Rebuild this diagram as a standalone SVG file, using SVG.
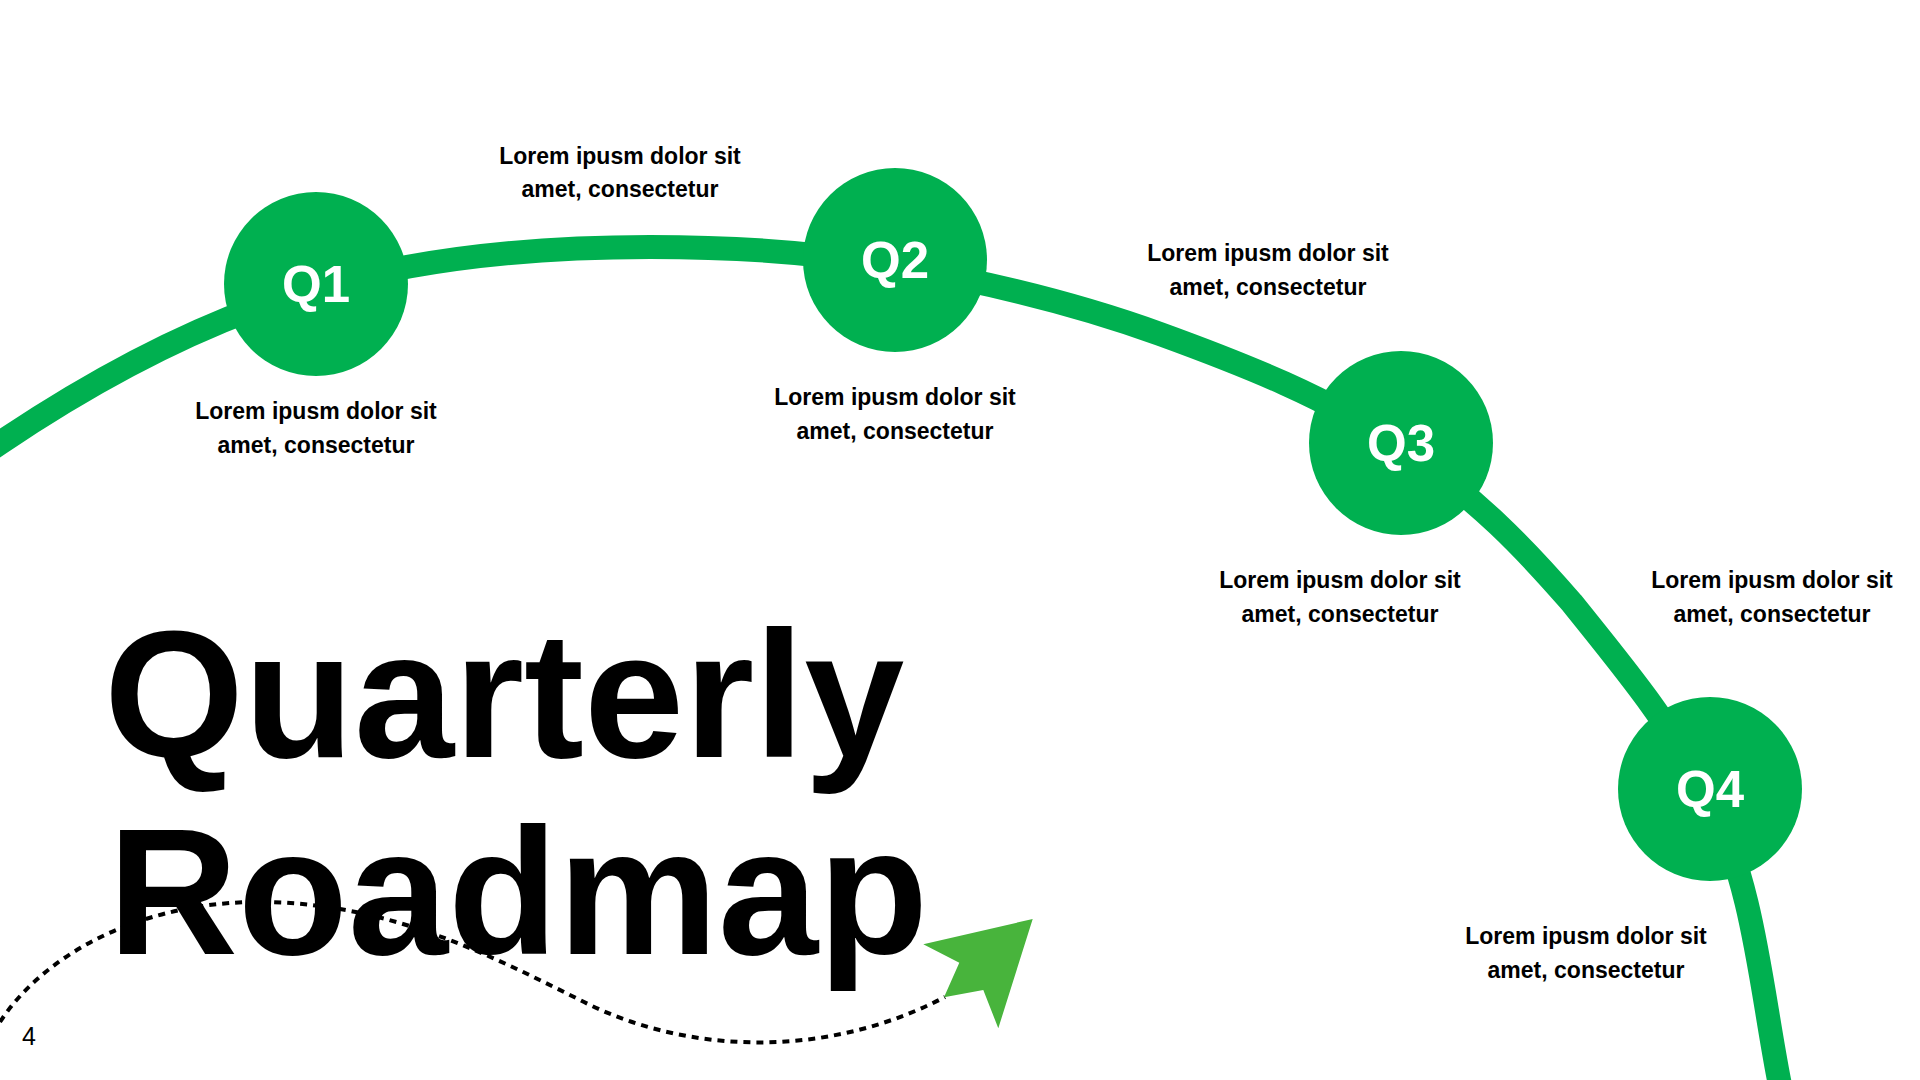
<svg xmlns="http://www.w3.org/2000/svg" width="1920" height="1080" viewBox="0 0 1920 1080">
<style>
.road{fill:none;stroke:#00B050;stroke-width:24;}
.node{fill:#00B050;}
.q{font-family:"Liberation Sans",Arial,sans-serif;font-weight:bold;font-size:51px;fill:#FFFFFF;text-anchor:middle;}
.lbl{font-family:"Liberation Sans",Arial,sans-serif;font-weight:bold;font-size:23px;fill:#000000;text-anchor:middle;}
.title{font-family:"Liberation Sans",Arial,sans-serif;font-weight:bold;font-size:180px;fill:#000000;}
.pg{font-family:"Liberation Sans",Arial,sans-serif;font-size:25px;fill:#000000;text-anchor:middle;}
.dots{fill:none;stroke:#000000;stroke-width:4;stroke-dasharray:7 6;}
</style>
<rect x="0" y="0" width="1920" height="1080" fill="#FFFFFF"/>
<g id="connectors">
<path class="road" d="M -30 463 L 0 443 C 97 377.6, 203.6 320.3, 316 288 C 423.6 257.1, 538 247, 650 247 C 732 247, 814.2 251.7, 895 266 C 984.6 281.8, 1074.5 302.9, 1160 334 C 1243.4 364.3, 1327.5 397.4, 1401 447 C 1478 499, 1526 550, 1572 603 C 1620 663, 1674 727, 1710 800 C 1753.6 885.5, 1760.7 985.7, 1779 1080 L 1785 1110"/>
</g>
<g id="node-q1">
<circle class="node" cx="316" cy="284" r="92"/>
<text class="q" x="316" y="302">Q1</text>
</g>
<g id="node-q2">
<circle class="node" cx="895" cy="260" r="92"/>
<text class="q" x="895" y="278">Q2</text>
</g>
<g id="node-q3">
<circle class="node" cx="1401" cy="443" r="92"/>
<text class="q" x="1401" y="461">Q3</text>
</g>
<g id="node-q4">
<circle class="node" cx="1710" cy="789" r="92"/>
<text class="q" x="1710" y="807">Q4</text>
</g>
<g id="labels">
<text class="lbl" x="316" y="419">Lorem ipusm dolor sit</text>
<text class="lbl" x="316" y="453">amet, consectetur</text>
<text class="lbl" x="620" y="164">Lorem ipusm dolor sit</text>
<text class="lbl" x="620" y="197">amet, consectetur</text>
<text class="lbl" x="895" y="405">Lorem ipusm dolor sit</text>
<text class="lbl" x="895" y="439">amet, consectetur</text>
<text class="lbl" x="1268" y="261">Lorem ipusm dolor sit</text>
<text class="lbl" x="1268" y="295">amet, consectetur</text>
<text class="lbl" x="1340" y="588">Lorem ipusm dolor sit</text>
<text class="lbl" x="1340" y="622">amet, consectetur</text>
<text class="lbl" x="1772" y="588">Lorem ipusm dolor sit</text>
<text class="lbl" x="1772" y="622">amet, consectetur</text>
<text class="lbl" x="1586" y="944">Lorem ipusm dolor sit</text>
<text class="lbl" x="1586" y="978">amet, consectetur</text>
</g>
<g id="title">
<text class="title" x="104" y="757">Quarterly</text>
<text class="title" x="108" y="954">Roadmap</text>
</g>
<g id="dotted-path">
<path class="dots" d="M 0 1022 C 40 960, 130 905, 250 902 C 380 900, 480 950, 580 1000 C 680 1052, 820 1062, 945 997"/>
</g>
<g id="arrow">
<polygon points="1032.7,919 923.3,944.3 959.3,962.7 944,997.3 983.3,990 998.3,1028.3" fill="#48B43C"/>
</g>
<text class="pg" x="29" y="1045">4</text>
</svg>
